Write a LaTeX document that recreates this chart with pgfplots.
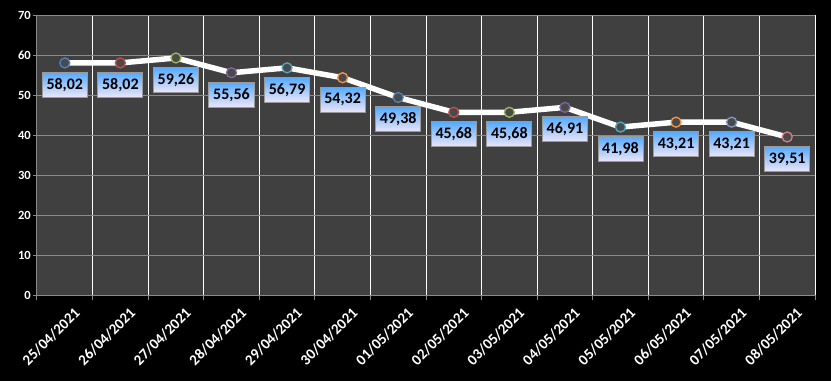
\documentclass[border=0pt]{standalone}
\usepackage{pgfplots}
\pgfplotsset{compat=1.18}
\usepackage{pgfplotstable}
\usepackage{fontspec}
\setmainfont{Carlito}
\definecolor{plotbg}{HTML}{404040}
\definecolor{gridgray}{HTML}{8A8A8A}
\definecolor{mfill}{HTML}{4A4A4A}
\definecolor{cA}{HTML}{4F81BD}
\definecolor{cB}{HTML}{C0504D}
\definecolor{cC}{HTML}{9BBB59}
\definecolor{cD}{HTML}{8064A2}
\definecolor{cE}{HTML}{4BACC6}
\definecolor{cF}{HTML}{F79646}
\definecolor{cG}{HTML}{7C97C8}
\definecolor{cH}{HTML}{D67E7B}
\definecolor{boxtop}{HTML}{55AAFF}
\definecolor{boxbot}{HTML}{EEE6F8}
\definecolor{boxline}{HTML}{9A9A9A}
\pgfplotstableread{
x y c
0 58.02 a
1 58.02 b
2 59.26 c
3 55.56 d
4 56.79 e
5 54.32 f
6 49.38 a
7 45.68 b
8 45.68 c
9 46.91 d
10 41.98 e
11 43.21 f
12 43.21 g
13 39.51 h
}\datatable
\begin{document}
\begin{tikzpicture}
\fill[black] (-37pt,-86pt) rectangle (794pt,295pt);
\begin{axis}[
  at={(0,0)}, anchor=south west,
  scale only axis, width=778pt, height=280pt,
  xmin=-0.5, xmax=13.5, ymin=0, ymax=70,
  axis background/.style={fill=plotbg},
  axis x line*=bottom, axis y line*=left,
  axis line style={gridgray, line width=1pt, -},
  ytick={0,10,...,70},
  xtick={0,...,13},
  xticklabels={25/04/2021,26/04/2021,27/04/2021,28/04/2021,29/04/2021,30/04/2021,01/05/2021,02/05/2021,03/05/2021,04/05/2021,05/05/2021,06/05/2021,07/05/2021,08/05/2021},
  minor xtick={-0.5,0.5,...,13.5},
  tick align=outside,
  major tick length=4pt,
  minor tick length=5pt,
  x tick style={draw=none},
  minor x tick style={draw=gridgray, line width=1pt},
  y tick style={draw=gridgray, line width=1pt},
  ymajorgrids, xminorgrids,
  major grid style={gridgray, line width=1pt},
  minor grid style={white, line width=1pt},
  /pgf/number format/assume math mode=true,
  yticklabel style={font=\bfseries\fontsize{12.5}{12.5}\selectfont, text=white, inner sep=2pt},
  xticklabel style={font=\bfseries\fontsize{15}{15}\selectfont, text=white, rotate=45, anchor=east, yshift=-17pt, xshift=4pt},
  clip=false,
]
\addplot[white, line width=5.5pt, line join=round] table[x=x,y=y]{\datatable};
\addplot[scatter, only marks, scatter src=explicit symbolic,
  scatter/classes={
    a={mark=*, mark size=5pt, fill=mfill, draw=cA, line width=1.3pt},
    b={mark=*, mark size=5pt, fill=mfill, draw=cB, line width=1.3pt},
    c={mark=*, mark size=5pt, fill=mfill, draw=cC, line width=1.3pt},
    d={mark=*, mark size=5pt, fill=mfill, draw=cD, line width=1.3pt},
    e={mark=*, mark size=5pt, fill=mfill, draw=cE, line width=1.3pt},
    f={mark=*, mark size=5pt, fill=mfill, draw=cF, line width=1.3pt},
    g={mark=*, mark size=5pt, fill=mfill, draw=cG, line width=1.3pt},
    h={mark=*, mark size=5pt, fill=mfill, draw=cH, line width=1.3pt}}
  ] table[x=x,y=y,meta=c]{\datatable};
\addplot[only marks, mark=none, point meta=y,
  nodes near coords={\pgfmathprintnumber[fixed,fixed zerofill,precision=2,use comma]{\pgfplotspointmeta}},
  every node near coord/.append style={anchor=north, yshift=-9pt,
    font=\bfseries\fontsize{16}{16}\selectfont, text=black,
    draw=boxline, line width=1pt, top color=boxtop, bottom color=boxbot,
    minimum width=45pt, minimum height=25pt, inner sep=2pt}
  ] table[x=x,y=y]{\datatable};
\end{axis}
\pgfresetboundingbox
\path (-37pt,-86pt) rectangle (794pt,295pt);
\end{tikzpicture}
\end{document}
